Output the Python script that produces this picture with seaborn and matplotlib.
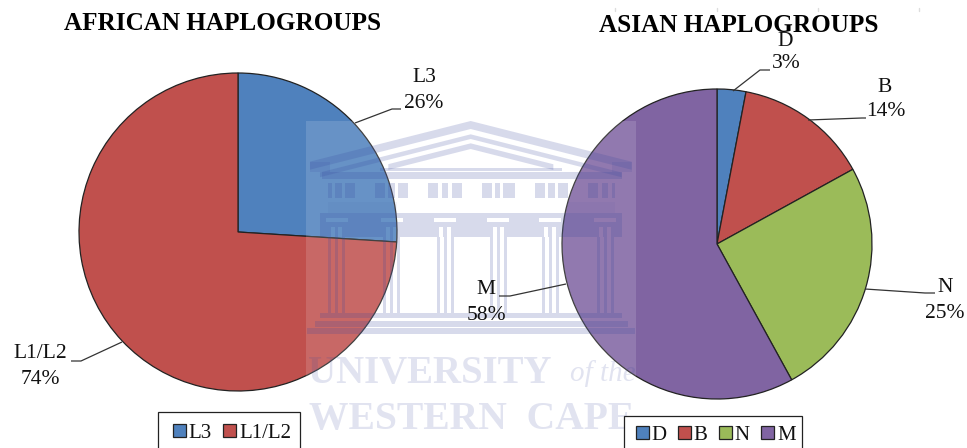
import matplotlib
matplotlib.use("Agg")
import matplotlib.pyplot as plt
from matplotlib.patches import Rectangle, Polygon
import seaborn as sns

sns.set_theme(style="white")
plt.rcParams['font.family'] = ['Liberation Serif', 'DejaVu Serif']

african_labels = ["L3", "L1/L2"]
african_values = [26, 74]
asian_labels = ["D", "B", "N", "M"]
asian_values = [3, 14, 25, 58]
palette = ["#4F81BD", "#C0504D", "#9BBB59", "#8064A2"]
african_title = "AFRICAN HAPLOGROUPS"
asian_title = "ASIAN HAPLOGROUPS"

W, H = 967, 448
fig = plt.figure(figsize=(W / 100, H / 100), dpi=100, facecolor="white")


def pie_axes(cx, cy, r, values, colors):
    ax = fig.add_axes([(cx - r) / W, 1 - (cy + r) / H, 2 * r / W, 2 * r / H])
    wedges, _ = ax.pie(values, colors=colors, startangle=90, counterclock=False,
                       radius=1, wedgeprops=dict(edgecolor="#222222", linewidth=0.9))
    ax.set_xlim(-1, 1)
    ax.set_ylim(-1, 1)
    ax.set_aspect("auto")
    ax.axis("off")
    for w in wedges:
        w.set_clip_on(False)
    return ax, wedges


ax1, w1 = pie_axes(238, 232, 159, african_values, palette[:2])
ax2, w2 = pie_axes(717, 244, 155, asian_values, palette)

# pixel-space overlay for labels, leader lines and the watermark
ov = fig.add_axes([0, 0, 1, 1], zorder=5)
ov.set_xlim(0, W)
ov.set_ylim(H, 0)
ov.axis("off")
ov.patch.set_alpha(0)

# titles
ov.text(223, 24, african_title, ha="center", va="center", fontsize=18.1, fontweight="bold", color="black", zorder=8)
ov.text(739, 26, asian_title, ha="center", va="center", fontsize=18.1, fontweight="bold", color="black", zorder=8)


def lab(x, y, s):
    ov.text(x, y, s, ha="center", va="center", fontsize=15.5, color="#111111", zorder=8)


def lead(xs, ys):
    ov.plot(xs, ys, color="#333333", lw=0.9, zorder=8, solid_capstyle="butt")


lab(424, 78, african_labels[0]); lab(424, 103, f"{african_values[0]}%")
lead([355, 392, 401], [123, 109, 109])
lab(40, 354, african_labels[1]); lab(40, 379, f"{african_values[1]}%")
lead([122, 81, 71], [342, 361, 361])

lab(785, 42, asian_labels[0]); lab(786, 64, f"{asian_values[0]}%")
lead([733, 760, 770], [91, 70, 70])
lab(885, 87, asian_labels[1]); lab(886, 112, f"{asian_values[1]}%")
lead([808, 862, 866], [120, 118, 118])
lab(945, 288, asian_labels[2]); lab(945, 313, f"{asian_values[2]}%")
lead([865, 925, 935], [289, 293, 293])
lab(486, 290, asian_labels[3]); lab(486, 315, f"{asian_values[3]}%")
lead([566, 510, 499], [284, 296, 296])

# faint page marks along the top
for x in (615, 717, 818, 919):
    ov.plot([x, x], [8, 11], color="#dddddd", lw=1)

# watermark
ov.add_patch(Rectangle((306, 121), 330, 310, facecolor="white", alpha=0.14, edgecolor="none", zorder=3))
ink = (0.22, 0.28, 0.62)
A = 0.2


def X(v):
    return 300 + v / 3


def Yt(v):
    return 115 + v / 3


def Yb(v):
    return 215 + v / 3


def blk(x0, x1, y0, y1, a=A):
    ov.add_patch(Rectangle((X(x0), y0), (x1 - x0) / 3, y1 - y0, facecolor=ink, alpha=a,
                           edgecolor="none", zorder=4))


def row(x0, x1, gaps, y0, y1, a=A):
    cur = x0
    for g0, g1 in gaps:
        blk(cur, g0, y0, y1, a)
        cur = g1
    blk(cur, x1, y0, y1, a)


def roof(top, bot, xl, xr):
    slope = 0.253
    ov.add_patch(Polygon([(X(xl), Yt(top + slope * (512 - xl))), (X(512), Yt(top)),
                          (X(xr), Yt(top + slope * (xr - 512))), (X(xr), Yt(bot + slope * (xr - 512))),
                          (X(512), Yt(bot)), (X(xl), Yt(bot + slope * (512 - xl)))],
                         facecolor=ink, alpha=A, edgecolor="none", zorder=4))


roof(18, 42, 30, 995)
roof(58, 72, 60, 965)
roof(85, 102, 265, 760)
blk(240, 785, Yt(158), Yt(168))
# roof ends
blk(30, 90, Yt(140), Yt(172), 0.12)
blk(935, 995, Yt(140), Yt(172), 0.12)
# entablature
blk(65, 965, Yt(172), Yt(192))
# frieze with metopes and triglyphs
frieze_gaps = [(95, 105), (125, 135), (165, 225), (255, 265), (285, 295), (325, 385), (415, 425),
               (445, 455), (485, 545), (575, 585), (600, 610), (645, 705), (735, 745), (765, 775),
               (805, 865), (895, 905), (925, 935)]
row(85, 945, frieze_gaps, Yt(205), Yt(250))
# plain course (only a tint on the pies)
blk(85, 290, Yt(262), Yt(294), 0.05)
blk(800, 945, Yt(262), Yt(294), 0.05)
# architrave with capitals and column shafts cut out
centres = [110, 275, 435, 595, 750, 915]
blk(60, 965, Yb(-6), Yb(10))
caps = [(c - 33, c + 33) for c in centres]
row(60, 965, caps, Yb(10), Yb(20))
blk(60, 965, Yb(20), Yb(35))
shafts = []
for c in centres:
    shafts += [(c - 17, c - 5), (c + 5, c + 17)]
row(60, 965, shafts, Yb(35), Yb(65))
# columns
for c in centres:
    for dx in (-21, 0, 21):
        blk(c + dx - 4.5, c + dx + 4.5, Yb(65), Yb(295))
# steps
blk(60, 965, Yb(295), Yb(310))
blk(45, 985, Yb(318), Yb(335))
blk(20, 1005, Yb(340), Yb(358))
# lettering
ov.text(308, 374, "UNIVERSITY", ha="left", va="center", fontsize=28, fontweight="bold", color=ink, alpha=0.15, zorder=4)
ov.text(636, 374, "of the", ha="right", va="center", fontsize=21, style="italic", color=ink, alpha=0.15, zorder=4)
ov.text(472, 420, "WESTERN  CAPE", ha="center", va="center", fontsize=28.5, fontweight="bold", color=ink, alpha=0.15, zorder=4)


def legend(handles, labels, x, y, box):
    ov.add_patch(Rectangle((box[0], box[1]), box[2], box[3], facecolor="white", edgecolor="#222222",
                           linewidth=0.9, zorder=6))
    lg = ov.legend(handles, labels, loc="center left", bbox_to_anchor=(x / W, 1 - y / H),
                   bbox_transform=fig.transFigure, ncol=len(labels), frameon=False, fontsize=15,
                   handlelength=0.6, handleheight=0.6, handletextpad=0.15, columnspacing=0.55,
                   borderpad=0, borderaxespad=0, labelcolor="#111111")
    lg.set_zorder(9)
    return lg


ov.add_artist(legend(w1, african_labels, 173, 433, (158, 412, 142, 50)))
legend(w2, asian_labels, 636, 435, (624, 416, 178, 50))

fig.savefig("out.png", dpi=100)
